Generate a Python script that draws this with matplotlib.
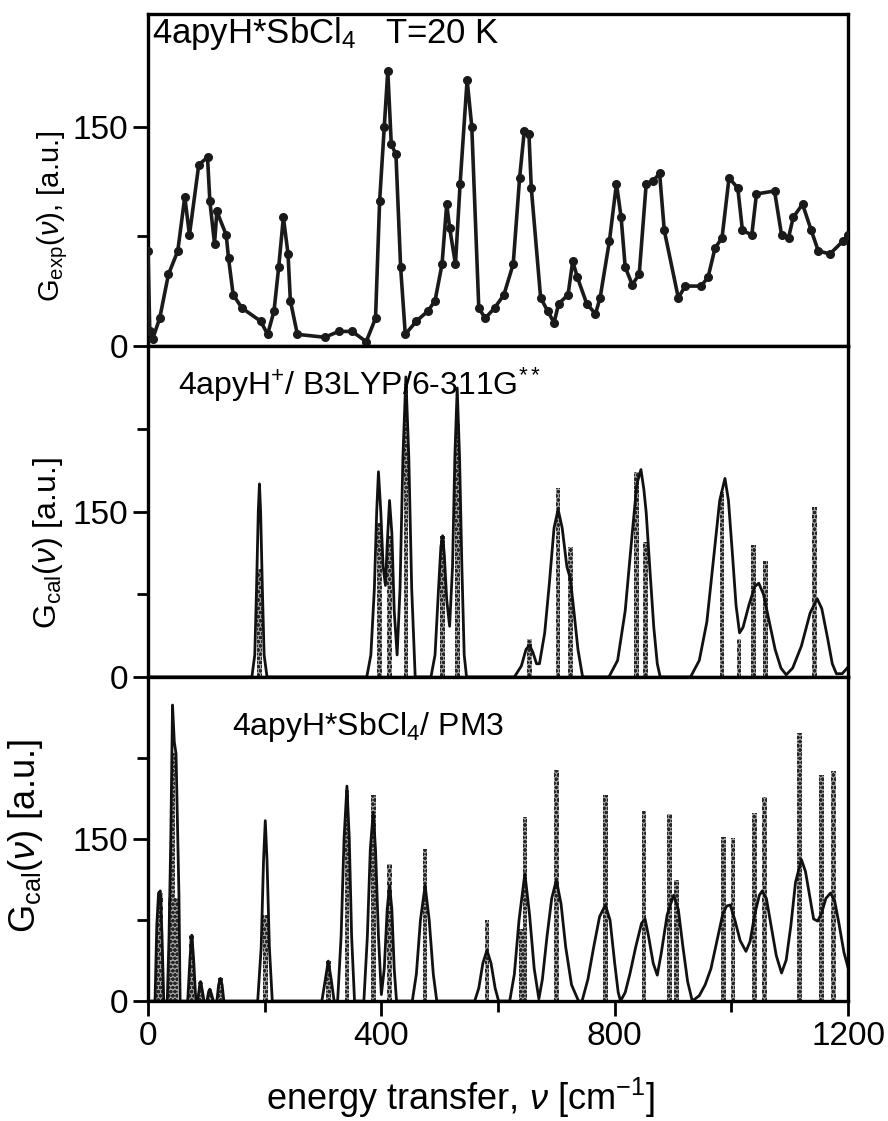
import matplotlib
matplotlib.use('Agg')
import matplotlib.pyplot as plt
import numpy as np

plt.rcParams['font.family'] = ['Liberation Sans', 'DejaVu Sans']
plt.rcParams['mathtext.fontset'] = 'custom'
plt.rcParams['mathtext.rm'] = 'Liberation Sans'
plt.rcParams['mathtext.it'] = 'Liberation Sans:italic'
plt.rcParams['hatch.linewidth'] = 1.1

# experimental spectrum, T=20 K
x_exp = [0, 3, 8, 20, 35, 51, 63, 71, 87, 102, 106, 114, 118, 134, 138, 146, 161, 193, 205,
         216, 224, 232, 240, 244, 256, 303, 327, 350, 374, 390, 397, 405, 411, 417, 425, 433,
         441, 460, 480, 492, 504, 512, 517, 527, 535, 547, 555, 567, 578, 594, 610, 626, 637,
         645, 653, 657, 673, 685, 696, 704, 720, 728, 736, 752, 767, 775, 791, 803, 811, 818,
         830, 842, 854, 866, 877, 885, 909, 921, 948, 960, 972, 984, 996, 1011, 1019, 1035,
         1043, 1074, 1086, 1098, 1106, 1122, 1137, 1149, 1169, 1192, 1200]
y_exp = [65, 10, 5, 19, 49, 65, 102, 76, 124, 129, 99, 70, 92, 76, 60, 35, 26, 17, 8,
         24, 54, 88, 63, 31, 8, 6, 10, 10, 3, 19, 99, 150, 188, 138, 131, 54,
         8, 17, 24, 31, 56, 97, 81, 56, 111, 182, 150, 26, 19, 26, 35, 56, 115,
         147, 145, 108, 33, 24, 16, 29, 35, 58, 47, 29, 22, 33, 72, 111, 88, 54,
         42, 49, 111, 113, 118, 79, 33, 41, 41, 47, 67, 74, 115, 108, 79, 76,
         104, 106, 76, 74, 88, 97, 79, 65, 63, 72, 76]

# B3LYP/6-311G** : stick intensities and broadened envelope
x_b3 = [191, 397, 414, 442, 505, 530, 654, 703, 724, 837, 853, 984, 1013, 1038, 1058, 1143]
h_b3 = [98, 140, 128, 266, 128, 229, 34, 171, 118, 186, 122, 168, 34, 120, 105, 154]
env_b3_x = [0, 178, 183, 186, 189, 191, 193, 196, 199, 204,
            375, 382, 388, 392, 395, 399, 403, 407, 410, 414, 418, 422, 427, 432, 437, 442, 447, 452, 458,
            485, 492, 498, 502, 505, 508, 512, 517, 522, 526, 530, 534, 538, 542, 546,
            628, 640, 648, 654, 660, 666, 671, 680, 688, 696, 703, 710, 718, 724, 730, 737, 745,
            790, 805, 818, 830, 838, 845, 850, 854, 860, 867, 873, 878,
            930, 945, 958, 970, 980, 989, 995, 1002, 1008, 1014, 1020, 1030, 1040, 1047, 1055,
            1065, 1075, 1085, 1094, 1105, 1120, 1135, 1147, 1155, 1165, 1173, 1180, 1190, 1200]
env_b3_y = [0, 0, 20, 80, 150, 175, 150, 80, 20, 0,
            0, 20, 80, 150, 186, 150, 100, 83, 120, 160, 130, 60, 20, 80, 200, 272, 200, 80, 0,
            0, 20, 80, 118, 128, 110, 70, 46, 100, 200, 262, 200, 100, 20, 0,
            0, 10, 25, 29, 22, 12, 12, 40, 85, 135, 152, 135, 100, 89, 60, 25, 0,
            0, 15, 60, 130, 175, 188, 170, 149, 100, 45, 12, 0,
            0, 15, 50, 110, 160, 180, 160, 110, 65, 40, 45, 65, 82, 85, 75,
            50, 25, 8, 2, 8, 28, 58, 71, 62, 35, 12, 3, 3, 9]

# PM3 : stick intensities and broadened envelope
x_pm3 = [17, 21, 38, 43, 48, 75, 90, 106, 124, 201, 309, 341, 387, 414, 475, 581, 640, 646,
         700, 784, 850, 894, 906, 986, 1003, 1040, 1057, 1117, 1155, 1175]
h_pm3 = [73, 100, 95, 230, 95, 61, 18, 11, 21, 80, 37, 195, 191, 127, 141, 75, 67, 170,
         214, 191, 176, 173, 112, 152, 151, 174, 189, 248, 209, 213]
env_pm3_x = [0, 12, 15, 18, 21, 24, 27,
             33, 36, 39, 42, 45, 48, 51, 53, 55,
             68, 72, 75, 78, 82, 85, 88, 90, 93, 96, 101, 104, 106, 109, 112,
             118, 121, 124, 127, 130,
             188, 194, 198, 201, 204, 208, 213,
             298, 304, 309, 314, 319,
             325, 331, 336, 341, 345, 349, 354,
             370, 376, 381, 386, 390, 395, 400, 405, 410, 414, 418, 422, 426,
             453, 460, 467, 475, 482, 489, 495,
             560, 567, 574, 581, 588, 595, 601,
             620, 628, 636, 646, 654, 662, 670, 676, 684, 692, 700, 708, 716, 726, 738,
             744, 754, 764, 774, 784, 792, 800, 806, 810, 818, 826, 836, 846, 852, 858, 866,
             873, 880, 890, 901, 909, 917, 925, 933, 945, 955, 965, 975, 985, 992, 998, 1006,
             1015, 1025, 1032, 1040, 1048, 1053, 1060, 1068, 1077, 1086, 1094, 1102, 1110,
             1120, 1127, 1135, 1141, 1148, 1155, 1162, 1170, 1177, 1185, 1193, 1200]
env_pm3_y = [0, 0, 70, 100, 102, 60, 0,
             0, 60, 150, 274, 240, 229, 150, 98, 0,
             0, 40, 61, 40, 0, 0, 12, 18, 10, 0, 0, 9, 11, 6, 0,
             0, 15, 21, 15, 0,
             0, 50, 130, 167, 130, 50, 0,
             0, 20, 37, 20, 0,
             0, 60, 150, 199, 150, 60, 0,
             0, 60, 140, 175, 140, 60, 6, 30, 85, 107, 85, 30, 0,
             0, 25, 75, 107, 75, 25, 0,
             0, 12, 35, 47, 35, 12, 0,
             0, 25, 75, 118, 80, 30, 2, 20, 60, 95, 112, 90, 50, 15, 0,
             0, 20, 50, 78, 89, 75, 35, 8, 0, 8, 25, 50, 72, 76, 60, 35,
             24, 45, 80, 98, 85, 50, 18, 0, 5, 15, 30, 55, 80, 88, 89, 75,
             56, 46, 55, 80, 98, 102, 95, 70, 42, 26, 38, 70, 110,
             131, 120, 95, 76, 74, 82, 95, 100, 93, 70, 45, 31]

fig = plt.figure(figsize=(8.88, 11.21), dpi=100)
left, right = 0.1667, 0.955
ax1 = fig.add_axes([left, 0.6913, right - left, 0.9875 - 0.6913])
ax2 = fig.add_axes([left, 0.3961, right - left, 0.6913 - 0.3961], sharex=ax1)
ax3 = fig.add_axes([left, 0.107, right - left, 0.3961 - 0.107], sharex=ax1)

ax1.plot(x_exp, y_exp, '-o', color='#1a1a1a', lw=2.6, ms=5.5, zorder=3)
ax1.set_ylim(0, 227)

for ax, xs, hs, ex, ey in [(ax2, x_b3, h_b3, env_b3_x, env_b3_y),
                           (ax3, x_pm3, h_pm3, env_pm3_x, env_pm3_y)]:
    ax.bar(xs, hs, width=8, color='#a8a8a8', edgecolor='#262626', hatch='oooo',
           linewidth=0, zorder=1)
    ax.plot(ex, ey, color='#111111', lw=2.0, zorder=2)
    ax.set_ylim(0, 300)

for ax in (ax1, ax2, ax3):
    ax.set_xlim(0, 1200)
    ax.set_yticks([0, 150])
    ax.set_yticks([75, 225], minor=True)
    ax.set_xticks([0, 400, 800, 1200])
    ax.set_xticks([200, 600, 1000], minor=True)
    ax.tick_params(which='both', direction='out', width=2.0, labelsize=24, pad=4)
    ax.tick_params(which='major', length=10.5)
    ax.tick_params(which='minor', length=8)
    for s in ax.spines.values():
        s.set_linewidth(2.4)
ax1.set_yticks([75], minor=True)
ax1.tick_params(labelbottom=False)
ax2.tick_params(labelbottom=False)

ax1.text(0.006, 0.912, r'4apyH*SbCl$_4$   T=20 K', transform=ax1.transAxes,
         fontsize=25, va='baseline', ha='left')
ax2.text(0.043, 0.852, r'4apyH$^{+}$/ B3LYP/6-311G$^{**}$', transform=ax2.transAxes,
         fontsize=23, va='baseline', ha='left')
ax3.text(0.12, 0.821, r'4apyH*SbCl$_4$/ PM3', transform=ax3.transAxes,
         fontsize=23, va='baseline', ha='left')

fig.text(0.059, 0.807, r'G$_{\mathrm{exp}}$($\nu$), [a.u.]', rotation=90,
         fontsize=21, ha='center', va='center')
fig.text(0.054, 0.5156, r'G$_{\mathrm{cal}}$($\nu$) [a.u.]', rotation=90,
         fontsize=23, ha='center', va='center')
fig.text(0.029, 0.254, r'G$_{\mathrm{cal}}$($\nu$) [a.u.]', rotation=90,
         fontsize=26, ha='center', va='center')
fig.text(0.519, 0.021, r'energy transfer, $\nu$ [cm$^{-1}$]', fontsize=26,
         ha='center', va='center')

fig.savefig('out.png', dpi=100)
